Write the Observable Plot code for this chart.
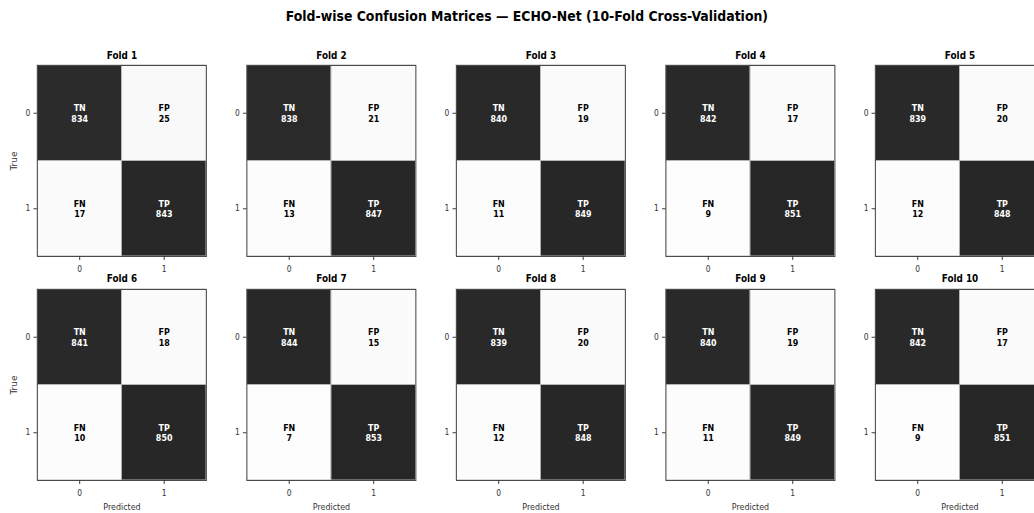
<!DOCTYPE html>
<html>
<head>
<meta charset="utf-8">
<script src="https://cdn.jsdelivr.net/npm/d3@7"></script>
<script src="https://cdn.jsdelivr.net/npm/@observablehq/plot@0.6"></script>
<style>
  html, body { margin: 0; padding: 0; background: #fff; overflow: hidden; width: 1034px; height: 513px; }
  #wrap { position: absolute; left: 0; top: 0; width: 1180px; transform: scaleX(0.8848); transform-origin: 0 0; font-family: "DejaVu Sans", sans-serif; }
  #title { height: 40px; box-sizing: border-box; padding-top: 8px; padding-left: 11px; line-height: 16px; font-size: 14.1px; font-weight: bold; text-align: center; color: #000; }
</style>
</head>
<body>
<div id="wrap">
  <div id="title">Fold-wise Confusion Matrices — ECHO-Net (10-Fold Cross-Validation)</div>
  <div id="chart"></div>
</div>
<script>
// Data
const folds = [1, 2, 3, 4, 5, 6, 7, 8, 9, 10];
const tn = [834, 838, 840, 842, 839, 841, 844, 839, 840, 842];
const fp = [25, 21, 19, 17, 20, 18, 15, 20, 19, 17];
const fn = [17, 13, 11, 9, 12, 10, 7, 12, 11, 9];
const tp = [843, 847, 849, 851, 848, 850, 853, 848, 849, 851];
const classLabels = [0, 1];
const cellNames = ["TN", "FP", "FN", "TP"];

const perRow = 5;
const cells = [];
const panels = [];
folds.forEach((f, i) => {
  const col = i % perRow, row = Math.floor(i / perRow);
  panels.push({fold: f, col, row});
  const vals = [tn[i], fp[i], fn[i], tp[i]];
  vals.forEach((v, j) => {
    cells.push({fold: f, col, row, truth: classLabels[Math.floor(j / 2)], pred: classLabels[j % 2], name: cellNames[j], value: v});
  });
});
const leftPanels = panels.filter(d => d.col === 0);
const bottomPanels = panels.filter(d => d.row === 1);

const chart = Plot.plot({
  width: 1180,
  height: 473,
  marginLeft: 41.8,
  marginRight: 0,
  marginTop: 25,
  marginBottom: 33,
  style: {fontFamily: "DejaVu Sans", fontSize: "8.5px", color: "#333", background: "#fff"},
  fx: {domain: [0, 1, 2, 3, 4], paddingInner: 0.1934, paddingOuter: 0, round: false, axis: null},
  fy: {domain: [0, 1], paddingInner: 0.1473, paddingOuter: 0, round: false, axis: null},
  x: {domain: classLabels, padding: 0, round: false, axis: null},
  y: {domain: classLabels, padding: 0, round: false, axis: null},
  color: {type: "linear", domain: [0, 860], range: ["#ffffff", "#242424"]},
  marks: [
    Plot.cell(cells, {x: "pred", y: "truth", fx: "col", fy: "row", fill: "value", stroke: "#b5b5b5", strokeWidth: 1, inset: 0}),
    Plot.frame({stroke: "#4a4a4a", strokeWidth: 1}),
    Plot.axisX({facetAnchor: null, label: null, tickSize: 4, tickPadding: 5, fontSize: 8.5, stroke: "#333"}),
    Plot.axisY({facetAnchor: null, label: null, tickSize: 4, tickPadding: 4, fontSize: 8.5, stroke: "#333"}),
    Plot.text(cells, {x: "pred", y: "truth", fx: "col", fy: "row", text: d => `${d.name}\n${d.value}`,
      fill: d => d.value > 430 ? "#ffffff" : "#000000", fontWeight: "bold", fontSize: 9, lineHeight: 1.18}),
    Plot.text(panels, {fx: "col", fy: "row", frameAnchor: "top", lineAnchor: "bottom", dy: -7, text: d => `Fold ${d.fold}`,
      fontWeight: "bold", fontSize: 10, fill: "#000"}),
    Plot.text(leftPanels, {fx: "col", fy: "row", frameAnchor: "left", textAnchor: "middle", lineAnchor: "middle", dx: -26, rotate: -90, text: () => "True",
      fontSize: 9, fill: "#333"}),
    Plot.text(bottomPanels, {fx: "col", fy: "row", frameAnchor: "bottom", lineAnchor: "middle", dy: 27, text: () => "Predicted",
      fontSize: 9, fill: "#333"})
  ]
});
document.getElementById("chart").appendChild(chart);
</script>
</body>
</html>
